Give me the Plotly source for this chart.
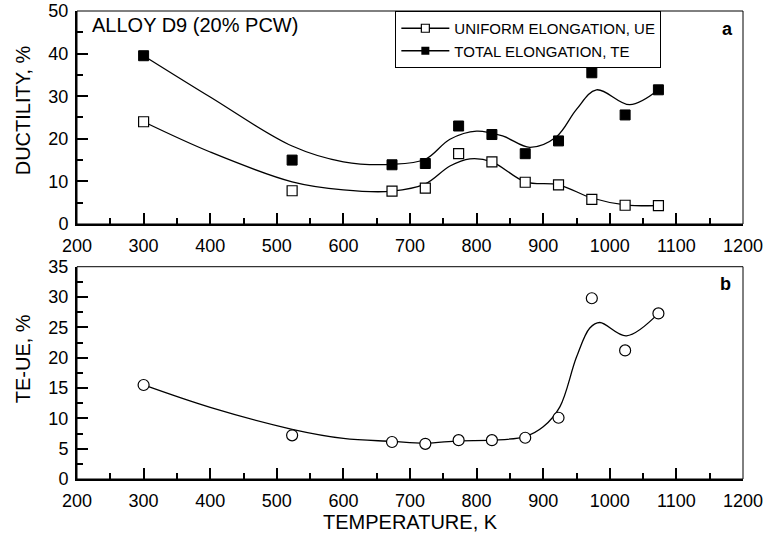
import plotly.graph_objects as go

# ---- data ----
temp = [300, 523, 673, 723, 773, 823, 873, 923, 973, 1023, 1073]
ue = [24.0, 7.8, 7.7, 8.4, 16.5, 14.6, 9.8, 9.2, 5.8, 4.4, 4.3]
te = [39.5, 15.0, 13.9, 14.2, 23.0, 21.0, 16.5, 19.5, 35.5, 25.6, 31.5]
te_ue = [15.5, 7.2, 6.1, 5.8, 6.4, 6.4, 6.8, 10.1, 29.8, 21.2, 27.3]

# fitted (hand-drawn) curves
ue_fit_t = [300, 400, 523, 600, 673, 723, 760, 790, 823, 873, 923, 973, 1023, 1073]
ue_fit = [24.0, 16.9, 9.9, 8.0, 7.7, 9.4, 13.6, 15.3, 14.6, 9.9, 9.2, 6.1, 4.5, 4.3]
te_fit_t = [300, 400, 523, 600, 673, 723, 760, 800, 840, 880, 920, 950, 980, 1030, 1073]
te_fit = [39.5, 29.8, 18.3, 14.6, 14.0, 15.2, 19.9, 21.8, 20.6, 18.0, 20.5, 26.9, 31.5, 28.0, 31.5]
diff_fit_t = [300, 400, 523, 600, 673, 723, 773, 823, 873, 900, 925, 950, 970, 985, 1025, 1073]
diff_fit = [15.5, 11.8, 8.2, 6.7, 6.2, 5.9, 6.3, 6.4, 7.0, 8.6, 11.9, 20.1, 24.9, 25.8, 23.6, 27.3]

FONT = "Arial, Liberation Sans, sans-serif"

fig = go.Figure()

# top panel curves
fig.add_trace(go.Scatter(x=ue_fit_t, y=ue_fit, mode="lines", line=dict(color="black", width=1.3, shape="spline", smoothing=1.0),
                         showlegend=False, xaxis="x", yaxis="y"))
fig.add_trace(go.Scatter(x=te_fit_t, y=te_fit, mode="lines", line=dict(color="black", width=1.3, shape="spline", smoothing=1.0),
                         showlegend=False, xaxis="x", yaxis="y"))
fig.add_trace(go.Scatter(x=temp, y=ue, mode="markers", name="UNIFORM ELONGATION, UE",
                         marker=dict(symbol="square", size=10, color="white", line=dict(color="black", width=1.2)),
                         showlegend=False, xaxis="x", yaxis="y"))
fig.add_trace(go.Scatter(x=temp, y=te, mode="markers", name="TOTAL ELONGATION, TE",
                         marker=dict(symbol="square", size=10, color="black", line=dict(color="black", width=1)),
                         showlegend=False, xaxis="x", yaxis="y"))
# legend entries
fig.add_trace(go.Scatter(x=[None], y=[None], mode="lines+markers", name="UNIFORM ELONGATION, UE",
                         line=dict(color="black", width=1.3),
                         marker=dict(symbol="square", size=8, color="white", line=dict(color="black", width=1.2)),
                         xaxis="x", yaxis="y"))
fig.add_trace(go.Scatter(x=[None], y=[None], mode="lines+markers", name="TOTAL ELONGATION, TE",
                         line=dict(color="black", width=1.3),
                         marker=dict(symbol="square", size=8, color="black"),
                         xaxis="x", yaxis="y"))

# bottom panel
fig.add_trace(go.Scatter(x=diff_fit_t, y=diff_fit, mode="lines", line=dict(color="black", width=1.3, shape="spline", smoothing=1.0),
                         showlegend=False, xaxis="x2", yaxis="y2"))
fig.add_trace(go.Scatter(x=temp, y=te_ue, mode="markers", name="TE-UE",
                         marker=dict(symbol="circle", size=11, color="white", line=dict(color="black", width=1.2)),
                         showlegend=False, xaxis="x2", yaxis="y2"))

ax_common = dict(showgrid=False, zeroline=False, showline=True, linecolor="black", linewidth=2,
                 ticks="inside", ticklen=11, tickwidth=1.5, tickcolor="black", automargin=False,
                 tickfont=dict(family=FONT, size=18, color="black"))

fig.update_layout(
    width=765, height=540,
    margin=dict(l=77, r=22, t=11, b=61),
    paper_bgcolor="white", plot_bgcolor="white",
    font=dict(family=FONT, color="black"),
    xaxis=dict(domain=[0, 1], range=[200, 1200], dtick=100, anchor="y", ticklabelstandoff=4,
               minor=dict(dtick=50, ticks="inside", ticklen=6, tickwidth=1.5, tickcolor="black"), **ax_common),
    yaxis=dict(domain=[0.5449, 1], range=[0, 50], dtick=10, anchor="x", ticklabelstandoff=3,
               minor=dict(dtick=5, ticks="inside", ticklen=6, tickwidth=1.5, tickcolor="black"), **ax_common),
    xaxis2=dict(domain=[0, 1], range=[200, 1200], dtick=100, anchor="y2", ticklabelstandoff=4,
                minor=dict(dtick=50, ticks="inside", ticklen=6, tickwidth=1.5, tickcolor="black"), **ax_common),
    yaxis2=dict(domain=[0, 0.4536], range=[0, 35], dtick=5, anchor="x2", ticklabelstandoff=3,
                minor=dict(dtick=2.5, ticks="inside", ticklen=6, tickwidth=1.5, tickcolor="black"), **ax_common),
    legend=dict(x=0.478, y=1.0, xanchor="left", yanchor="top", bgcolor="white",
                bordercolor="black", borderwidth=1, font=dict(family=FONT, size=15, color="black"),
                tracegroupgap=0, itemwidth=48),
    showlegend=True,
    shapes=[
        dict(type="rect", xref="x domain", yref="y domain", x0=0, x1=1, y0=0, y1=1,
             line=dict(color="black", width=1)),
        dict(type="rect", xref="x2 domain", yref="y2 domain", x0=0, x1=1, y0=0, y1=1,
             line=dict(color="black", width=1)),
    ],
    annotations=[
        dict(text="DUCTILITY, %", xref="paper", yref="paper", x=-0.081, y=0.788, textangle=-90,
             showarrow=False, font=dict(size=20), xanchor="center", yanchor="middle"),
        dict(text="TE-UE, %", xref="paper", yref="paper", x=-0.081, y=0.256, textangle=-90,
             showarrow=False, font=dict(size=20), xanchor="center", yanchor="middle"),
        dict(text="TEMPERATURE, K", xref="paper", yref="paper", x=0.5, y=-0.092,
             showarrow=False, font=dict(size=20), xanchor="center", yanchor="middle"),
        dict(text="ALLOY D9 (20% PCW)", xref="paper", yref="paper", x=0.0195, y=0.970,
             showarrow=False, font=dict(size=20), xanchor="left", yanchor="middle"),
        dict(text="<b>a</b>", xref="paper", yref="paper", x=0.977, y=0.9615,
             showarrow=False, font=dict(size=18), xanchor="center", yanchor="middle"),
        dict(text="<b>b</b>", xref="paper", yref="paper", x=0.974, y=0.416,
             showarrow=False, font=dict(size=18), xanchor="center", yanchor="middle"),
    ],
)

fig.write_html("out.html")
